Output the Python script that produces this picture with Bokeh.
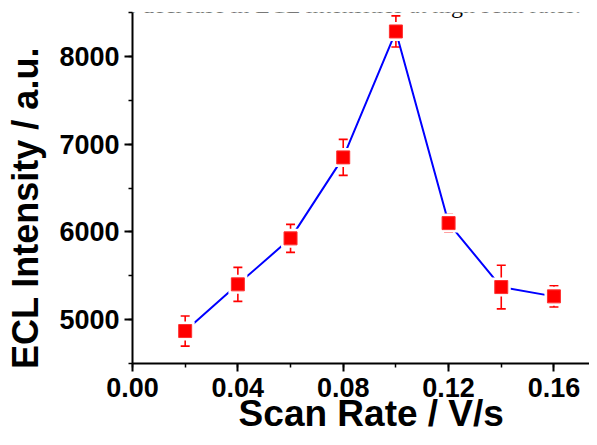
import math
from bokeh.plotting import figure
from bokeh.models import (ColumnDataSource, Whisker, TeeHead, SingleIntervalTicker,
                          NumeralTickFormatter, Range1d, Label)
from bokeh.embed import file_html
from bokeh.resources import INLINE

# data
scan_rate = [0.02, 0.04, 0.06, 0.08, 0.10, 0.12, 0.14, 0.16]
ecl_intensity = [4870, 5402, 5926, 6849, 8284, 6100, 5371, 5265]
ecl_error = [172, 194, 160, 205, 177, 100, 248, 121]

NB = "\u00a0"
x_label = "Scan Rate / V/s"
y_label = "ECL Intensity / a.u."
caption = "resulting in the decrease in ECL intensities at high scan rates."

src = ColumnDataSource(dict(
    x=scan_rate,
    y=ecl_intensity,
    upper=[v + e for v, e in zip(ecl_intensity, ecl_error)],
    lower=[v - e for v, e in zip(ecl_intensity, ecl_error)],
))

FONT = "Liberation Sans"

p = figure(width=589, height=437, output_backend="svg", toolbar_location=None,
           x_range=Range1d(0.0, 0.1735), y_range=Range1d(4500, 8500),
           min_border_left=132, min_border_right=0, min_border_top=12,
           min_border_bottom=74)
p.outline_line_color = None
p.grid.visible = False
p.background_fill_color = "white"
p.border_fill_color = None

# line
p.line("x", "y", source=src, line_color="#0000ff", line_width=2)
# white halo behind markers (gap in line)
p.scatter("x", "y", source=src, marker="square", size=19,
          fill_color="white", line_color=None)
# error bars
w = Whisker(source=src, base="x", upper="upper", lower="lower",
            line_color="#ff0000", line_width=1.6,
            upper_head=TeeHead(size=9, line_color="#ff0000", line_width=1.6),
            lower_head=TeeHead(size=9, line_color="#ff0000", line_width=1.6))
p.add_layout(w)
# markers
p.scatter("x", "y", source=src, marker="square", size=13,
          fill_color="#ff0000", line_color="#ff3030", line_width=1)

# axes
for ax in (p.xaxis[0], p.yaxis[0]):
    ax.axis_line_width = 2
    ax.axis_line_color = "black"
    ax.major_tick_line_width = 2
    ax.minor_tick_line_width = 1.5
    ax.major_tick_in = 0
    ax.major_tick_out = 8
    ax.minor_tick_in = 0
    ax.minor_tick_out = 4
    ax.major_label_text_font = FONT
    ax.major_label_text_font_style = "bold"
    ax.major_label_text_font_size = "27px"
    ax.major_label_text_color = "black"
    ax.axis_label_text_font = FONT
    ax.axis_label_text_font_style = "bold"
    ax.axis_label_text_color = "black"

p.xaxis.ticker = SingleIntervalTicker(interval=0.04, num_minor_ticks=2)
p.yaxis.ticker = SingleIntervalTicker(interval=1000, num_minor_ticks=2)
p.xaxis.formatter = NumeralTickFormatter(format="0.00")
p.yaxis.formatter = NumeralTickFormatter(format="0")
p.xaxis.major_label_standoff = 6
p.yaxis.major_label_standoff = 5

# non-breaking spaces only pad the titles so they sit where the reference has them
p.xaxis.axis_label = NB * 2 + x_label
p.yaxis.axis_label = y_label + NB * 4
p.xaxis.axis_label_text_font_size = "37px"
p.yaxis.axis_label_text_font_size = "36px"
p.xaxis.axis_label_standoff = -7
p.yaxis.axis_label_standoff = 10

# cut-off caption at the very top
p.add_layout(Label(x=-0.0533, y=8580, text=caption, text_font="Liberation Serif",
                   text_font_size="24px", text_color="black",
                   text_baseline="alphabetic", level="overlay"))

open("out.html", "w").write(file_html(p, INLINE))
